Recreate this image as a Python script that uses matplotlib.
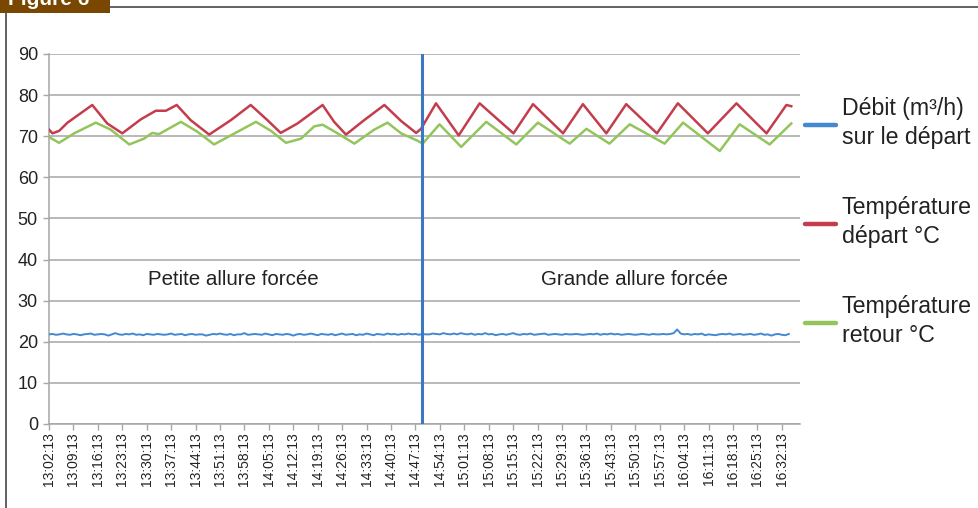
import numpy as np
import matplotlib
matplotlib.use('Agg')
import matplotlib.pyplot as plt
from matplotlib.lines import Line2D
from matplotlib.patches import Rectangle

plt.rcParams['font.family'] = ['Liberation Sans', 'DejaVu Sans']

# time axis in minutes after 13:02:13
tick_labels = ['13:02:13','13:09:13','13:16:13','13:23:13','13:30:13','13:37:13','13:44:13',
               '13:51:13','13:58:13','14:05:13','14:12:13','14:19:13','14:26:13','14:33:13',
               '14:40:13','14:47:13','14:54:13','15:01:13','15:08:13','15:15:13','15:22:13',
               '15:29:13','15:36:13','15:43:13','15:50:13','15:57:13','16:04:13','16:11:13',
               '16:18:13','16:25:13','16:32:13']
tick_step = 7
switch_time = 107  # passage petite -> grande allure

# température départ (red)
red_t = [0, 1, 2.9, 5.3, 12.4, 16.7, 21, 26.3, 30.6, 33.5, 36.6, 40.6, 45.9, 52.1, 57.8, 62.6,
         66.4, 71.2, 78.4, 81.7, 85.1, 90.3, 96.1, 100.9, 105.2, 106.6, 110.9, 117.4, 123.4,
         133.1, 138.7, 147.3, 153, 159.7, 165.4, 174.2, 180.2, 188.8, 197, 205.6, 211.3, 212.7]
red_v = [71.6, 70.7, 71.3, 73.3, 77.6, 73.1, 70.7, 74.1, 76.2, 76.2, 77.6, 73.9, 70.4, 73.9, 77.6, 73.9,
         70.8, 73.1, 77.6, 73.5, 70.4, 73.9, 77.6, 73.7, 70.8, 71.8, 78.0, 70.2, 78.0,
         70.7, 77.8, 70.7, 77.8, 70.7, 77.8, 70.7, 78.0, 70.7, 78.0, 70.7, 77.6, 77.3]

# température retour (green)
green_t = [0, 2.9, 7.2, 13.4, 17.7, 23, 27.2, 29.6, 31.5, 37.8, 42.5, 47.3, 52.1, 59.3, 63.6,
           67.9, 72.2, 76, 78.4, 82.7, 87.5, 93.2, 97, 100.9, 105.6, 107.1, 111.9, 118.1, 125.3,
           133.9, 140.1, 149.2, 154, 160.6, 166.4, 176.4, 181.7, 192.2, 197.9, 206.5, 212.7]
green_v = [69.8, 68.4, 70.7, 73.3, 71.6, 68.0, 69.4, 70.8, 70.5, 73.5, 71.1, 68.0, 70.2, 73.5, 71.3,
           68.4, 69.4, 72.4, 72.8, 70.7, 68.2, 71.6, 73.3, 70.7, 68.9, 68.2, 72.9, 67.4, 73.5,
           68.0, 73.3, 68.2, 71.8, 68.2, 72.9, 68.2, 73.3, 66.4, 72.9, 68.0, 73.1]

# débit, one reading per minute (blue)
flow_v = [21.8, 21.9, 21.7, 21.8, 22.0, 21.8, 21.7, 21.9, 21.8, 21.6, 21.8, 21.9, 22.0, 21.7, 21.8, 21.9, 21.8, 21.5, 21.8, 22.1,
          21.8, 21.7, 21.9, 21.8, 22.0, 21.7, 21.8, 21.6, 21.9, 21.8, 21.7, 21.9, 21.8, 21.7, 21.8, 22.0, 21.7, 21.8, 21.9, 21.6,
          21.8, 21.9, 21.7, 21.8, 21.8, 21.5, 21.7, 21.9, 21.8, 22.0, 21.8, 21.7, 21.9, 21.6, 21.8, 21.8, 22.1, 21.7, 21.8, 21.9,
          21.8, 21.7, 22.0, 21.8, 21.6, 21.9, 21.8, 21.7, 21.9, 21.8, 21.5, 21.8, 21.9, 21.7, 21.8, 22.0, 21.8, 21.6, 21.9, 21.8,
          21.7, 21.9, 21.6, 21.8, 22.0, 21.7, 21.8, 21.9, 21.6, 21.8, 21.7, 22.0, 21.8, 21.6, 21.9, 21.8, 21.7, 22.0, 21.8, 21.9,
          21.7, 21.9, 21.8, 22.0, 21.8, 21.9, 21.7, 21.9, 21.8, 21.8, 22.0, 21.9, 21.8, 22.1, 21.9, 21.8, 22.0, 21.8, 22.1, 21.9,
          21.8, 22.0, 21.7, 21.9, 21.8, 22.1, 21.8, 21.9, 21.6, 21.8, 21.9, 21.7, 21.9, 22.1, 21.8, 21.7, 21.9, 21.8, 22.0, 21.7,
          21.8, 21.9, 22.0, 21.7, 21.8, 21.9, 21.8, 21.7, 21.9, 21.8, 21.8, 21.9, 21.8, 21.7, 21.8, 21.9, 21.8, 22.0, 21.7, 21.9,
          21.8, 22.0, 21.8, 21.9, 21.7, 21.8, 21.9, 21.8, 21.7, 21.8, 21.9, 21.8, 21.7, 21.9, 21.8, 21.8, 21.9, 21.8, 21.9, 22.1,
          23.0, 22.0, 21.8, 21.9, 21.7, 21.9, 21.8, 22.0, 21.6, 21.8, 21.7, 21.6, 21.8, 21.9, 21.8, 22.0, 21.7, 21.8, 21.9, 21.7,
          21.8, 21.9, 21.7, 21.8, 22.0, 21.7, 21.8, 21.5, 21.8, 21.9, 21.7, 21.6, 21.9]

legend_labels = ['Débit (m³/h)\nsur le départ', 'Température\ndépart °C', 'Température\nretour °C']
phase_labels = ['Petite allure forcée', 'Grande allure forcée']

c_blue, c_red, c_green = '#4488CF', '#C43D4C', '#93C55C'
grid_c = '#A6A6A6'
text_c = '#222222'

W, H = 979, 508
fig = plt.figure(figsize=(W/100, H/100), dpi=100)
ax = fig.add_axes([49/W, 1-424/H, (800-49)/W, (424-54)/H])

flow_t = np.arange(len(flow_v))
ax.plot(flow_t, flow_v, color=c_blue, lw=1.4, zorder=3)
ax.plot(red_t, red_v, color=c_red, lw=1.8, zorder=3)
ax.plot(green_t, green_v, color=c_green, lw=1.8, zorder=3)
ax.axvline(switch_time, color='#3A78C4', lw=2.2, zorder=4)

ax.set_xlim(0, 215.2)
ax.set_ylim(0, 90)
ax.set_yticks(np.arange(0, 91, 10))
ax.set_xticks(np.arange(len(tick_labels))*tick_step)
ax.set_xticklabels(tick_labels, rotation=90, fontsize=10, color=text_c)
ax.tick_params(axis='y', labelsize=13, colors=grid_c, labelcolor=text_c, length=4, width=1, pad=4)
ax.tick_params(axis='x', colors=grid_c, labelcolor=text_c, length=4, width=1, pad=2)
ax.grid(axis='y', color=grid_c, lw=1.1)
ax.set_axisbelow(True)
for s in ['top', 'right']:
    ax.spines[s].set_visible(False)
for s in ['left', 'bottom']:
    ax.spines[s].set_color(grid_c)
    ax.spines[s].set_linewidth(1.1)

# phase annotations
ax.text(52.8, 35.2, phase_labels[0], ha='center', va='center', fontsize=14.8, color=text_c)
ax.text(167.8, 35.2, phase_labels[1], ha='center', va='center', fontsize=14.8, color=text_c)

# legend on the right
for lab, col, yp in zip(legend_labels, [c_blue, c_red, c_green], [125, 224, 323]):
    fig.add_artist(Line2D([805/W, 836/W], [1-yp/H, 1-yp/H], color=col, lw=3.2, solid_capstyle='round'))
    fig.text(842/W, 1-(yp-2)/H, lab, ha='left', va='center', fontsize=16.7, linespacing=1.3, color=text_c)

# frame and "Figure 6" tab
fig.add_artist(Rectangle((0, 1-13/H), 110/W, 13/H, transform=fig.transFigure, color='#7A4700', lw=0))
fig.text(8/W, 1-5/H, 'Figure 6', ha='left', va='baseline', fontsize=15, fontweight='bold', color='white')
fig.add_artist(Line2D([110/W, 1], [1-7/H, 1-7/H], color='#555555', lw=1.3))
fig.add_artist(Line2D([6/W, 6/W], [0, 1-13/H], color='#555555', lw=1.3))

fig.savefig('out.png', dpi=100)
